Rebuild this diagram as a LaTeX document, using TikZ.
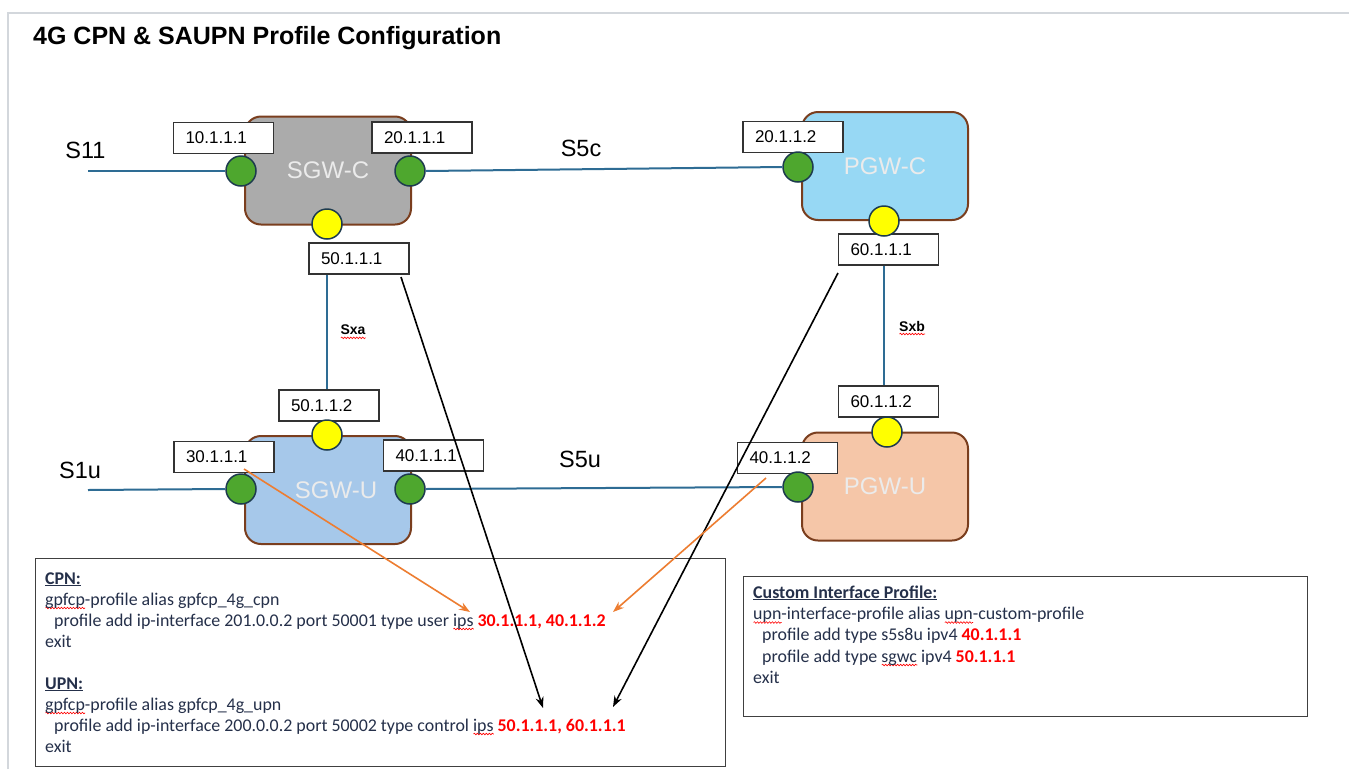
\documentclass[tikz,border=0pt]{standalone}
\usepackage{fontspec}
\setmainfont{Liberation Sans}
\newfontfamily\calfont{Carlito}
\usetikzlibrary{arrows.meta,decorations.pathmorphing}
\definecolor{framec}{HTML}{D3D7DC}
\definecolor{linkc}{HTML}{2E6C94}
\definecolor{brownb}{HTML}{7A3E1E}
\definecolor{sgwcf}{HTML}{ABABAB}
\definecolor{pgwcf}{HTML}{97D8F4}
\definecolor{sgwuf}{HTML}{A6C8EA}
\definecolor{pgwuf}{HTML}{F5C6A8}
\definecolor{portg}{HTML}{4EA72E}
\definecolor{porty}{HTML}{FFFF00}
\definecolor{portb}{HTML}{1D3B4E}
\definecolor{txtc}{HTML}{25304A}
\definecolor{orangea}{HTML}{ED7D31}
\newlength\spw
\newcommand\spell[1]{\settowidth\spw{#1}\rlap{\tikz[baseline=0pt,x=1pt,y=1pt]\draw[red,line width=0.6pt,decorate,decoration={snake,amplitude=0.8pt,segment length=3pt}] (0pt,-3pt) -- (\spw,-3pt);}#1}
\begin{document}
\begin{tikzpicture}[x=1pt,y=-1pt,
  gw/.style={draw=brownb,line width=2pt,rounded corners=16pt,minimum width=166pt,minimum height=108pt,inner sep=0pt},
  gwtext/.style={text=white!92!black,font=\fontsize{24}{28}\selectfont},
  portg/.style={circle,draw=portb,line width=1.5pt,fill=portg,minimum size=30pt,inner sep=0pt},
  porty/.style={circle,draw=portb,line width=1.5pt,fill=porty,minimum size=30pt,inner sep=0pt},
  ip/.style={draw=black!80,line width=1.2pt,fill=white,minimum height=31pt,text width=76pt,inner xsep=12pt,inner ysep=0pt,align=left,font=\fontsize{17}{19}\selectfont},
  link/.style={draw=linkc,line width=2pt},
  iface/.style={font=\fontsize{23.5}{27}\selectfont},
  sx/.style={font=\fontsize{14}{16}\selectfont\bfseries},
  blk/.style={draw=black,line width=1.6pt,-{Stealth[length=11pt,width=8pt]}},
  org/.style={draw=orangea,line width=1.6pt,-{Stealth[length=11pt,width=8pt]}},
  cfg/.style={anchor=base west,inner sep=0pt,text=txtc,font=\calfont\fontsize{17.9}{21}\selectfont},
  cfgbox/.style={draw=black!75,line width=1.2pt,inner sep=0pt,anchor=north west}
]
\useasboundingbox (0,0) rectangle (1349,769);
\fill[white] (0,0) rectangle (1349,769);
\draw[framec,line width=2pt] (8,769) -- (8,12.5) -- (1349,12.5);

\node[anchor=west,inner sep=0pt,font=\fontsize{25}{29}\selectfont\bfseries] (title) at (33,38) {4G CPN \& SAUPN Profile Configuration};

% gateways
\node[gw,fill=sgwcf,label={[gwtext]center:SGW-C}] (sgwc) at (328,170.5) {};
\node[gw,fill=pgwcf,label={[gwtext]center:PGW-C}] (pgwc) at (885,166) {};
\node[gw,fill=sgwuf,label={[gwtext,xshift=8pt]center:SGW-U}] (sgwu) at (328,490) {};
\node[gw,fill=pgwuf,label={[gwtext]center:PGW-U}] (pgwu) at (885,486.5) {};

% ip labels
\node[ip] (l10) at (223.5,138) {10.1.1.1};
\node[ip] (l20a) at (422,137.5) {20.1.1.1};
\node[ip] (l50a) at (359,258.5) {50.1.1.1};
\node[ip] (l20b) at (793,137) {20.1.1.2};
\node[ip] (l60a) at (888.5,249.5) {60.1.1.1};
\node[ip] (l50b) at (329,405.5) {50.1.1.2};
\node[ip] (l30) at (224,457) {30.1.1.1};
\node[ip] (l40a) at (433.5,455.5) {40.1.1.1};
\node[ip] (l60b) at (888.5,401.5) {60.1.1.2};
\node[ip] (l40b) at (787.5,458) {40.1.1.2};

% ports
\node[portg] (sc1) at (241,171) {};
\node[portg] (sc2) at (410,171) {};
\node[porty] (sc3) at (327,224) {};
\node[portg] (pc1) at (798,167) {};
\node[porty] (pc3) at (884,221) {};
\node[porty] (su3) at (327,435) {};
\node[portg] (su1) at (241,489) {};
\node[portg] (su2) at (410,489) {};
\node[porty] (pu3) at (887,432) {};
\node[portg] (pu1) at (798,487) {};

% links
\coordinate (s11e) at (88,171);
\coordinate (s1ue) at (88,490);
\draw[link] (s11e) -- (sc1.west);
\draw[link] (sc2.east) -- (pc1.west);
\draw[link] (s1ue) -- (su1.west);
\draw[link] (su2.east) -- (pu1.west);
\draw[link] (sc3 |- l50a.south) -- (sc3 |- l50b.north);
\draw[link] (pc3 |- l60a.south) -- (pc3 |- l60b.north);

\node[iface] (t11) at (85.5,150) {S11};
\node[iface] (t5c) at (581,148) {S5c};
\node[iface] (t1u) at (80,470) {S1u};
\node[iface] (t5u) at (580,459) {S5u};
\node[sx] (txa) at (353,332) {\spell{Sxa}};
\node[sx] (txb) at (912,328) {\spell{Sxb}};

% config boxes
\node[cfgbox,minimum width=690pt,minimum height=208pt] (cpnbox) at (35,558) {};
\node[cfgbox,minimum width=564pt,minimum height=140pt] (cipbox) at (743,576) {};

\node[cfg] (c1) at (45,584) {\bfseries\underline{CPN:}};
\node[cfg] (c2) at (45,605) {\spell{gpfcp}-profile alias gpfcp\_4g\_cpn};
\node[cfg] (c3) at (54,626) {profile add ip-interface 201.0.0.2 port 50001 type user \spell{ips} {\bfseries\color{red}30.1.1.1, 40.1.1.2}};
\node[cfg] (c4) at (45,647) {exit};
\node[cfg] (c5) at (45,689) {\bfseries\underline{UPN:}};
\node[cfg] (c6) at (45,710) {\spell{gpfcp}-profile alias gpfcp\_4g\_upn};
\node[cfg] (c7) at (54,731) {profile add ip-interface 200.0.0.2 port 50002 type control \spell{ips} {\bfseries\color{red}50.1.1.1, 60.1.1.1}};
\node[cfg] (c8) at (45,752) {exit};

\node[cfg] (d1) at (753,598) {\bfseries\underline{Custom Interface Profile:}};
\node[cfg] (d2) at (753,619.5) {\spell{upn}-interface-profile alias \spell{upn}-custom-profile};
\node[cfg] (d3) at (762,640.5) {profile add type s5s8u ipv4 {\bfseries\color{red}40.1.1.1}};
\node[cfg] (d4) at (762,662) {profile add type \spell{sgwc} ipv4 {\bfseries\color{red}50.1.1.1}};
\node[cfg] (d5) at (753,683.5) {exit};

% arrows
\coordinate (a1s) at (401,277);
\coordinate (a1e) at (543,708);
\coordinate (a2s) at (838,273);
\coordinate (a2e) at (613,707);
\coordinate (o1s) at (244,469);
\coordinate (o1e) at (470,612);
\coordinate (o2s) at (766,478);
\coordinate (o2e) at (613,612);
\draw[blk] (a1s) -- (a1e);
\draw[blk] (a2s) -- (a2e);
\draw[org] (o1s) -- (o1e);
\draw[org] (o2s) -- (o2e);
\end{tikzpicture}
\end{document}
